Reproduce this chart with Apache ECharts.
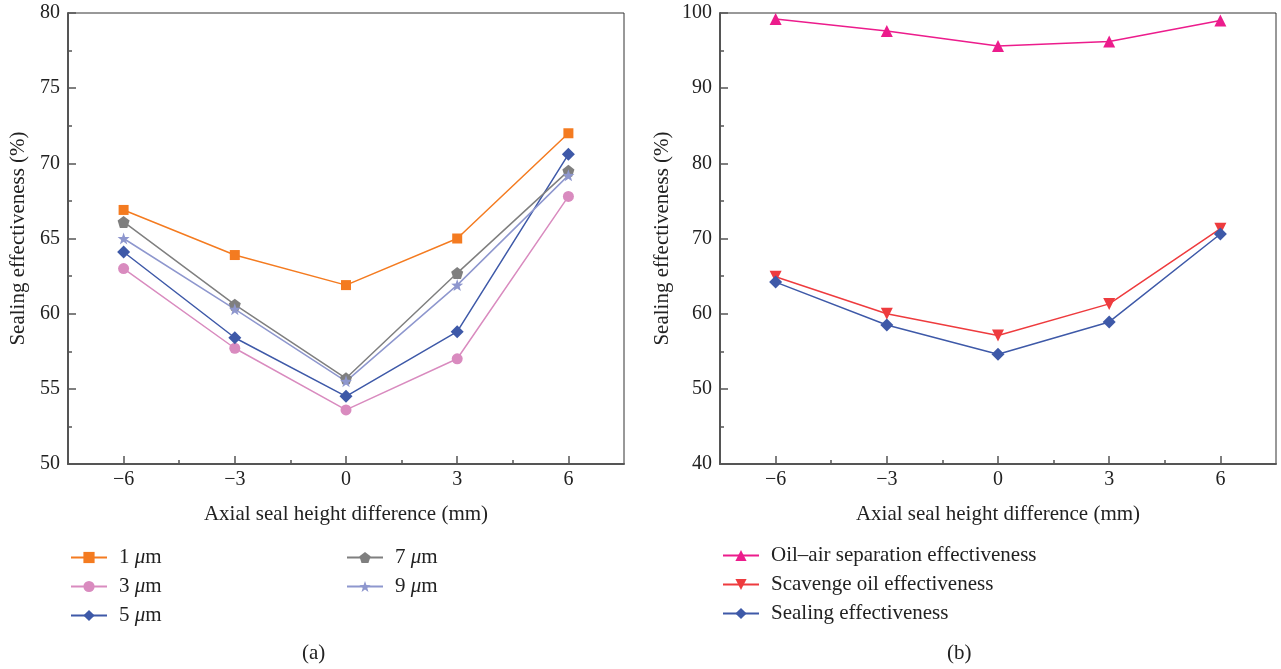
<!DOCTYPE html>
<html>
<head>
<meta charset="utf-8">
<script src="https://cdn.jsdelivr.net/npm/echarts@6/dist/echarts.min.js"></script>
<style>
  html, body { margin: 0; padding: 0; background: #fff; }
  #main { width: 1281px; height: 669px; }
</style>
</head>
<body>
<div id="main"></div>
<script>
// axial seal height difference (mm)
const xVals = [-6, -3, 0, 3, 6];
const xMajor = [-6, -3, 0, 3, 6];
const xMinor = [-4.5, -1.5, 1.5, 4.5];

// (a) sealing effectiveness for different clearances
const um1 = [66.9, 63.9, 61.9, 65.0, 72.0];
const um3 = [63.0, 57.7, 53.6, 57.0, 67.8];
const um5 = [64.1, 58.4, 54.5, 58.8, 70.6];
const um7 = [66.1, 60.6, 55.7, 62.7, 69.5];
const um9 = [65.0, 60.3, 55.5, 61.9, 69.2];

// (b) effectiveness components
const oilAir = [99.2, 97.6, 95.6, 96.2, 99.0];
const scavenge = [64.9, 60.0, 57.1, 61.3, 71.3];
const sealing = [64.2, 58.5, 54.6, 58.9, 70.6];

const FONT = "Liberation Serif";
const AXIS = "#555";

function pts(ys) {
    return xVals.map((x, i) => [x, ys[i]]);
}
function minusFmt(v) {
    return v < 0 ? "\u2212" + Math.abs(v) : String(v);
}

const pentagon = "path://M0,-10 L9.51,-3.09 L5.88,8.09 L-5.88,8.09 L-9.51,-3.09 Z";
const star = "path://M0,-10 L2.35,-3.24 L9.51,-3.09 L3.8,1.24 L5.88,8.09 L0,4 L-5.88,8.09 L-3.8,1.24 L-9.51,-3.09 L-2.35,-3.24 Z";
const downTri = "path://M-10,-8 L10,-8 L0,9 Z";

function xAxes(grid) {
    return [{
        type: "value", gridIndex: grid, min: -7.5, max: 7.5,
        name: "Axial seal height difference (mm)",
        nameLocation: "middle", nameGap: 40,
        nameTextStyle: { fontFamily: FONT, fontSize: 21, color: "#222" },
        axisLine: { show: true, onZero: false, lineStyle: { color: AXIS, width: 2 } },
        axisTick: { show: true, inside: true, length: 8, customValues: xMajor, lineStyle: { color: AXIS, width: 1.5 } },
        axisLabel: { customValues: xMajor, formatter: minusFmt, margin: 6, fontFamily: FONT, fontSize: 20, color: "#222" },
        splitLine: { show: false }
    }, {
        type: "value", gridIndex: grid, min: -7.5, max: 7.5, position: "bottom",
        axisLine: { show: false, onZero: false },
        axisTick: { show: true, inside: true, length: 4, customValues: xMinor, lineStyle: { color: AXIS, width: 1.5 } },
        axisLabel: { show: false },
        splitLine: { show: false }
    }];
}

function yAxis(grid, min, max, step, gap) {
    return {
        type: "value", gridIndex: grid, min: min, max: max, interval: step,
        name: "Sealing effectiveness (%)",
        nameLocation: "middle", nameGap: gap,
        nameTextStyle: { fontFamily: FONT, fontSize: 21, color: "#222" },
        axisLine: { show: true, onZero: false, lineStyle: { color: AXIS, width: 2 } },
        axisTick: { show: true, inside: true, length: 8, lineStyle: { color: AXIS, width: 1.5 } },
        minorTick: { show: true, splitNumber: 2, length: 4, lineStyle: { color: AXIS, width: 1.5 } },
        axisLabel: { margin: 8, fontFamily: FONT, fontSize: 20, color: "#222" },
        splitLine: { show: false }
    };
}

function line(name, data, color, symbol, size, xi, yi) {
    return {
        name: name, type: "line", data: pts(data),
        xAxisIndex: xi, yAxisIndex: yi,
        symbol: symbol, symbolSize: size,
        itemStyle: { color: color },
        lineStyle: { color: color, width: 1.5 },
        animation: false
    };
}

const legendText = {
    fontFamily: FONT, fontSize: 21, color: "#222", padding: [0, 0, 0, 7],
    rich: { i: { fontFamily: FONT, fontSize: 21, fontStyle: "italic", color: "#222" } }
};
function legendFmt(name) {
    return name.replace("\u03bc", "{i|\u03bc}");
}

var myChart = echarts.init(document.getElementById("main"));
var option = {
    backgroundColor: "#fff",
    grid: [
        { left: 68, right: 657, top: 13, bottom: 205, show: true, borderColor: "#333", borderWidth: 1 },
        { left: 720, right: 5, top: 13, bottom: 205, show: true, borderColor: "#333", borderWidth: 1 }
    ],
    xAxis: xAxes(0).concat(xAxes(1)),
    yAxis: [
        yAxis(0, 50, 80, 5, 39),
        yAxis(1, 40, 100, 10, 47)
    ],
    legend: [{
        orient: "vertical", left: 70, top: 547, padding: 0, itemGap: 8, itemWidth: 36, itemHeight: 14,
        data: ["1 \u03bcm", "3 \u03bcm", "5 \u03bcm"],
        formatter: legendFmt, textStyle: legendText
    }, {
        orient: "vertical", left: 346, top: 547, padding: 0, itemGap: 8, itemWidth: 36, itemHeight: 14,
        data: ["7 \u03bcm", "9 \u03bcm"],
        formatter: legendFmt, textStyle: legendText
    }, {
        orient: "vertical", left: 722, top: 545, padding: 0, itemGap: 8, itemWidth: 36, itemHeight: 14,
        data: ["Oil\u2013air separation effectiveness", "Scavenge oil effectiveness", "Sealing effectiveness"],
        textStyle: legendText
    }],
    graphic: [
        { type: "text", left: 302, top: 643, style: { text: "(a)", font: "21px " + FONT, fill: "#222" } },
        { type: "text", left: 947, top: 643, style: { text: "(b)", font: "21px " + FONT, fill: "#222" } }
    ],
    series: [
        line("1 \u03bcm", um1, "#F47B20", "rect", 10, 0, 0),
        line("3 \u03bcm", um3, "#D98BBF", "circle", 11, 0, 0),
        line("5 \u03bcm", um5, "#3E59A8", "diamond", 13, 0, 0),
        line("7 \u03bcm", um7, "#7F7F7F", pentagon, 12, 0, 0),
        line("9 \u03bcm", um9, "#8E97CE", star, 12, 0, 0),
        line("Oil\u2013air separation effectiveness", oilAir, "#EC1C8C", "triangle", 12, 2, 1),
        line("Scavenge oil effectiveness", scavenge, "#EE3B3E", downTri, 12, 2, 1),
        line("Sealing effectiveness", sealing, "#3E59A8", "diamond", 13, 2, 1)
    ]
};
myChart.setOption(option);
</script>
</body>
</html>
